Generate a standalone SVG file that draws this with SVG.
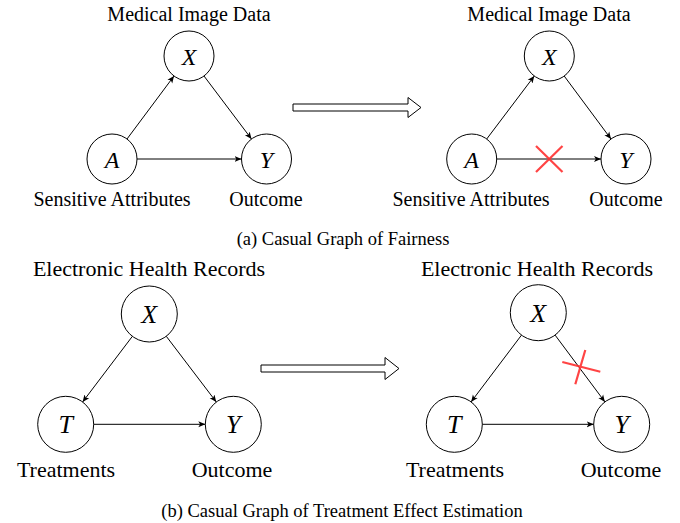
<svg xmlns="http://www.w3.org/2000/svg" width="680" height="523" viewBox="0 0 680 523">
<defs>
<style>
.node{fill:#fff;stroke:#000;stroke-width:1}
.lbl{font-family:"Liberation Serif","Times New Roman",serif;fill:#000;text-anchor:middle}
.t1{font-size:20px}
.t2{font-size:22px}
.cap{font-size:18.5px}
.var{font-family:"Liberation Serif","Times New Roman",serif;font-style:italic;text-anchor:middle;fill:#000}
.v1{font-size:24px}
.v2{font-size:26px}
.edge{stroke:#000;stroke-width:1;fill:none;marker-end:url(#ah)}
.big{fill:#fff;stroke:#000;stroke-width:1}
.cross{stroke:#ff3030;stroke-width:2.2;stroke-opacity:0.9;fill:none}
</style>
<marker id="ah" markerUnits="userSpaceOnUse" markerWidth="8" markerHeight="8" refX="7" refY="3.5" orient="auto">
<path d="M0,0.5 L7,3.5 L0,6.5 L1.8,3.5 z" fill="#000"/>
</marker>
</defs>

<!-- Top-left graph -->
<g id="tl-X"><circle class="node" cx="189" cy="56" r="25"/><text class="var v1" x="189" y="64.5">X</text></g>
<g id="tl-A"><circle class="node" cx="112" cy="159" r="25"/><text class="var v1" x="112" y="167.5">A</text></g>
<g id="tl-Y"><circle class="node" cx="266.5" cy="159" r="25"/><text class="var v1" x="266.5" y="167.5">Y</text></g>

<!-- Top-right graph -->
<g id="tr-X"><circle class="node" cx="549.3" cy="56" r="25"/><text class="var v1" x="549.3" y="64.5">X</text></g>
<g id="tr-A"><circle class="node" cx="471.7" cy="159" r="25"/><text class="var v1" x="471.7" y="167.5">A</text></g>
<g id="tr-Y"><circle class="node" cx="626" cy="159" r="25"/><text class="var v1" x="626" y="167.5">Y</text></g>

<!-- Bottom-left graph -->
<g id="bl-X"><circle class="node" cx="149.3" cy="314" r="28"/><text class="var v2" x="149.3" y="323">X</text></g>
<g id="bl-T"><circle class="node" cx="65.7" cy="424.3" r="28"/><text class="var v2" x="65.7" y="433.3">T</text></g>
<g id="bl-Y"><circle class="node" cx="233.3" cy="424.3" r="28"/><text class="var v2" x="233.3" y="433.3">Y</text></g>

<!-- Bottom-right graph -->
<g id="br-X"><circle class="node" cx="538.3" cy="312.7" r="28"/><text class="var v2" x="538.3" y="321.7">X</text></g>
<g id="br-T"><circle class="node" cx="454.3" cy="424.3" r="28"/><text class="var v2" x="454.3" y="433.3">T</text></g>
<g id="br-Y"><circle class="node" cx="621.7" cy="424.3" r="28"/><text class="var v2" x="621.7" y="433.3">Y</text></g>

<g id="connectors">
<line class="edge" x1="127" y1="139" x2="174" y2="76"/>
<line class="edge" x1="204" y1="76" x2="251.5" y2="139"/>
<line class="edge" x1="137" y1="159" x2="241.5" y2="159"/>

<line class="edge" x1="486.7" y1="139" x2="534.3" y2="76"/>
<line class="edge" x1="564.2" y1="76" x2="611" y2="139"/>
<line class="edge" x1="496.7" y1="159" x2="601" y2="159"/>

<line class="edge" x1="132.4" y1="336.3" x2="82.6" y2="402"/>
<line class="edge" x1="166.3" y1="336.3" x2="216.3" y2="402"/>
<line class="edge" x1="93.7" y1="424.3" x2="205.3" y2="424.3"/>

<line class="edge" x1="521.5" y1="335.1" x2="471.1" y2="401.9"/>
<line class="edge" x1="555.1" y1="335.1" x2="604.9" y2="401.9"/>
<line class="edge" x1="482.3" y1="424.3" x2="593.7" y2="424.3"/>
</g>

<g id="big-arrows">
<polygon class="big" points="293,104 408,104 408,97.5 421,107.5 408,117.5 408,111 293,111"/>
<polygon class="big" points="261,365 385,365 385,357.5 399,368.5 385,379.5 385,372 261,372"/>
</g>

<g id="crosses">
<path class="cross" d="M536,146 L562.5,172 M536,172 L562.5,146"/>
<path class="cross" d="M562.3,362 L600.3,371.7 M585.3,350 L575.3,384.3"/>
</g>

<g id="labels">
<text class="lbl t1" x="189" y="21">Medical Image Data</text>
<text class="lbl t1" x="112" y="206">Sensitive Attributes</text>
<text class="lbl t1" x="266" y="206">Outcome</text>
<text class="lbl t1" x="549" y="21">Medical Image Data</text>
<text class="lbl t1" x="471" y="206">Sensitive Attributes</text>
<text class="lbl t1" x="626" y="206">Outcome</text>
<text class="lbl cap" x="343" y="245">(a) Casual Graph of Fairness</text>

<text class="lbl t2" x="149" y="275.5">Electronic Health Records</text>
<text class="lbl t2" x="66" y="476.5">Treatments</text>
<text class="lbl t2" x="232" y="476.5">Outcome</text>
<text class="lbl t2" x="537" y="275.5">Electronic Health Records</text>
<text class="lbl t2" x="455" y="476.5">Treatments</text>
<text class="lbl t2" x="621" y="476.5">Outcome</text>
<text class="lbl cap" x="342" y="517">(b) Casual Graph of Treatment Effect Estimation</text>
</g>
</svg>
